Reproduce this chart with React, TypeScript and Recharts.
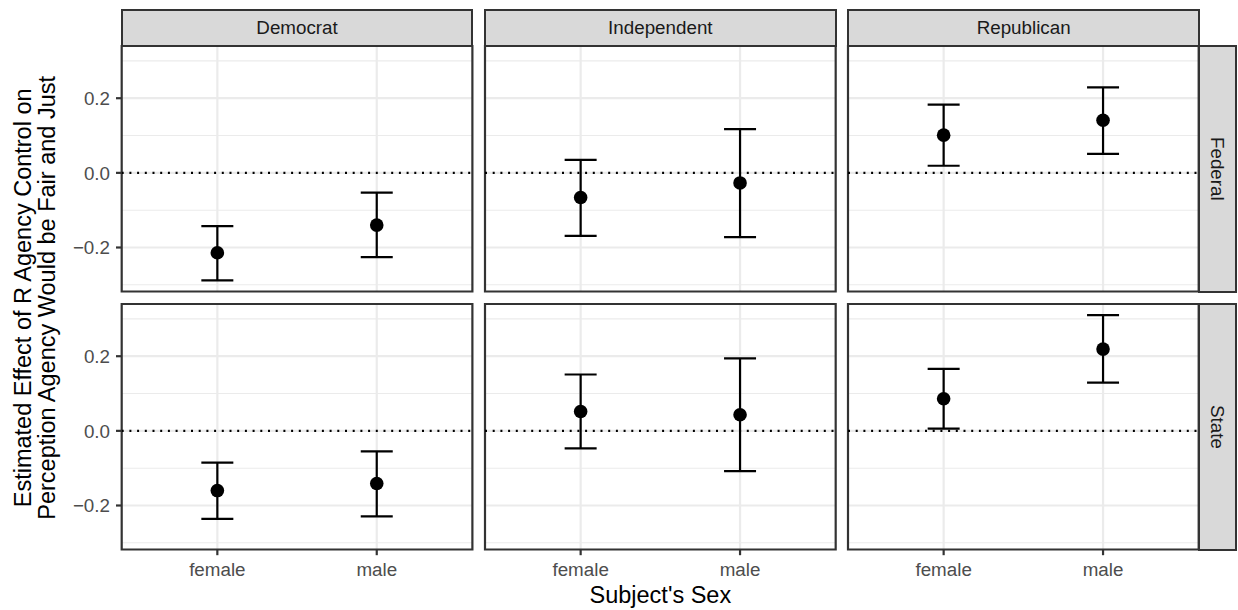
import React from 'react';
import {
  ScatterChart,
  Scatter,
  XAxis,
  YAxis,
  CartesianGrid,
  ReferenceLine,
  ReferenceArea,
  ErrorBar,
} from 'recharts';

// facet labels and x categories
const parties = ['Democrat', 'Independent', 'Republican'];
const levels = ['Federal', 'State'];
const sexes = ['female', 'male'];

// estimates per party (rows) and sex (columns)
const federalEst = [[-0.214, -0.14], [-0.066, -0.027], [0.101, 0.141]];
const federalLow = [[-0.288, -0.226], [-0.169, -0.172], [0.019, 0.051]];
const federalHigh = [[-0.143, -0.053], [0.035, 0.117], [0.183, 0.229]];

const stateEst = [[-0.16, -0.141], [0.052, 0.043], [0.086, 0.219]];
const stateLow = [[-0.236, -0.229], [-0.047, -0.108], [0.006, 0.129]];
const stateHigh = [[-0.085, -0.055], [0.151, 0.194], [0.166, 0.31]];

const yTicks = [-0.2, 0, 0.2];
const yMinor = [-0.3, -0.1, 0.1, 0.3];

const FONT = '"Liberation Sans", Arial, Helvetica, sans-serif';
const LW = 2.2;
const SMALL = 18.8;
const BIG = 23.5;

const allLow = [...federalLow.flat(), ...stateLow.flat()];
const allHigh = [...federalHigh.flat(), ...stateHigh.flat()];
const lo = Math.min(...allLow);
const hi = Math.max(...allHigh);
const pad = (hi - lo) * 0.05;
const yDomain: [number, number] = [lo - pad, hi + pad];
const xDomain: [number, number] = [0.4, sexes.length + 0.6];

// layout
const colLeft = [121.7, 485, 848.3];
const rowTop = [46, 304.2];
const panelW = 350.7;
const panelH = 245.5;
const M = 4;
const xAxisH = 40;

const fmtY = (v: number) => (v < 0 ? '\u2212' + Math.abs(v).toFixed(1) : v.toFixed(1));

const Dot = (props: any) => <circle cx={props.cx} cy={props.cy} r={6.8} fill="#000" />;

const Panel: React.FC<{ row: number; col: number }> = ({ row, col }) => {
  const est = row === 0 ? federalEst : stateEst;
  const low = row === 0 ? federalLow : stateLow;
  const high = row === 0 ? federalHigh : stateHigh;
  const data = sexes.map((s, i) => ({
    x: i + 1,
    y: est[col][i],
    err: [est[col][i] - low[col][i], high[col][i] - est[col][i]],
  }));
  const showY = col === 0;
  const showX = row === 1;
  const left = showY ? 0 : colLeft[col] - M;
  const width = colLeft[col] + panelW + M - left;
  const top = rowTop[row] - M;
  const height = M + panelH + (showX ? xAxisH : 0) + M;
  return (
    <div style={{ position: 'absolute', left, top }}>
      <ScatterChart
        width={width}
        height={height}
        margin={{ top: M, right: M, bottom: M, left: M }}
      >
        <CartesianGrid
          stroke="#EBEBEB"
          strokeWidth={LW / 2}
          horizontalValues={yMinor}
          vertical={false}
        />
        <CartesianGrid
          stroke="#EBEBEB"
          strokeWidth={LW}
          horizontalValues={yTicks}
          verticalValues={[1, 2]}
        />
        <XAxis
          type="number"
          dataKey="x"
          domain={xDomain}
          ticks={sexes.map((_, i) => i + 1)}
          tickFormatter={(v: number) => sexes[v - 1]}
          hide={!showX}
          height={xAxisH}
          axisLine={false}
          tickLine={{ stroke: '#333333', strokeWidth: LW }}
          tickSize={5.7}
          tickMargin={7}
          tick={{ fill: '#4D4D4D', fontSize: SMALL, fontFamily: FONT }}
          allowDataOverflow
        />
        <YAxis
          type="number"
          dataKey="y"
          domain={yDomain}
          ticks={yTicks}
          tickFormatter={fmtY}
          hide={!showY}
          width={colLeft[0] - M}
          axisLine={false}
          tickLine={{ stroke: '#333333', strokeWidth: LW }}
          tickSize={5.7}
          tickMargin={6}
          tick={{ fill: '#4D4D4D', fontSize: SMALL, fontFamily: FONT }}
          allowDataOverflow
        />
        <ReferenceLine y={0} stroke="#000" strokeWidth={LW} strokeDasharray="2 5.7" />
        <Scatter data={data} shape={Dot} isAnimationActive={false}>
          <ErrorBar dataKey="err" direction="y" width={16} stroke="#000" strokeWidth={LW} />
        </Scatter>
        <ReferenceArea
          x1={xDomain[0]}
          x2={xDomain[1]}
          y1={yDomain[0]}
          y2={yDomain[1]}
          fill="none"
          stroke="#333333"
          strokeWidth={LW}
          ifOverflow="visible"
        />
      </ScatterChart>
    </div>
  );
};

const stripStyle: React.CSSProperties = {
  position: 'absolute',
  boxSizing: 'border-box',
  background: '#D9D9D9',
  border: `${LW}px solid #333333`,
  color: '#1A1A1A',
  fontFamily: FONT,
  fontSize: SMALL,
  display: 'flex',
  alignItems: 'center',
  justifyContent: 'center',
};

const App: React.FC = () => {
  const plotLeft = colLeft[0];
  const plotRight = colLeft[2] + panelW;
  const plotMidY = (rowTop[0] + rowTop[1] + panelH) / 2;
  return (
    <div
      style={{
        position: 'absolute',
        left: 0,
        top: 0,
        width: 1238,
        height: 610,
        background: '#fff',
        overflow: 'hidden',
      }}
    >
      {levels.map((_, r) =>
        parties.map((__, c) => <Panel key={`${r}-${c}`} row={r} col={c} />)
      )}
      {parties.map((p, c) => (
        <div
          key={p}
          style={{
            ...stripStyle,
            left: colLeft[c] - LW / 2,
            top: 8.7,
            width: panelW + LW,
            height: rowTop[0] - 8.7 + LW / 2,
          }}
        >
          {p}
        </div>
      ))}
      {levels.map((l, r) => (
        <div
          key={l}
          style={{
            ...stripStyle,
            left: plotRight - LW / 2,
            top: rowTop[r] - LW / 2,
            width: 1236.8 - plotRight + LW / 2,
            height: panelH + LW,
          }}
        >
          <span style={{ writingMode: 'vertical-rl' }}>{l}</span>
        </div>
      ))}
      <svg
        width={1238}
        height={610}
        style={{ position: 'absolute', left: 0, top: 0, pointerEvents: 'none' }}
      >
        <text
          transform={`translate(31, ${plotMidY}) rotate(-90)`}
          textAnchor="middle"
          fontFamily={FONT}
          fontSize={BIG}
          fill="#000"
        >
          Estimated Effect of R Agency Control on
        </text>
        <text
          transform={`translate(55, ${plotMidY}) rotate(-90)`}
          textAnchor="middle"
          fontFamily={FONT}
          fontSize={BIG}
          fill="#000"
        >
          Perception Agency Would be Fair and Just
        </text>
        <text
          x={(plotLeft + plotRight) / 2}
          y={603}
          textAnchor="middle"
          fontFamily={FONT}
          fontSize={BIG}
          fill="#000"
        >
          Subject's Sex
        </text>
      </svg>
    </div>
  );
};

export default App;
